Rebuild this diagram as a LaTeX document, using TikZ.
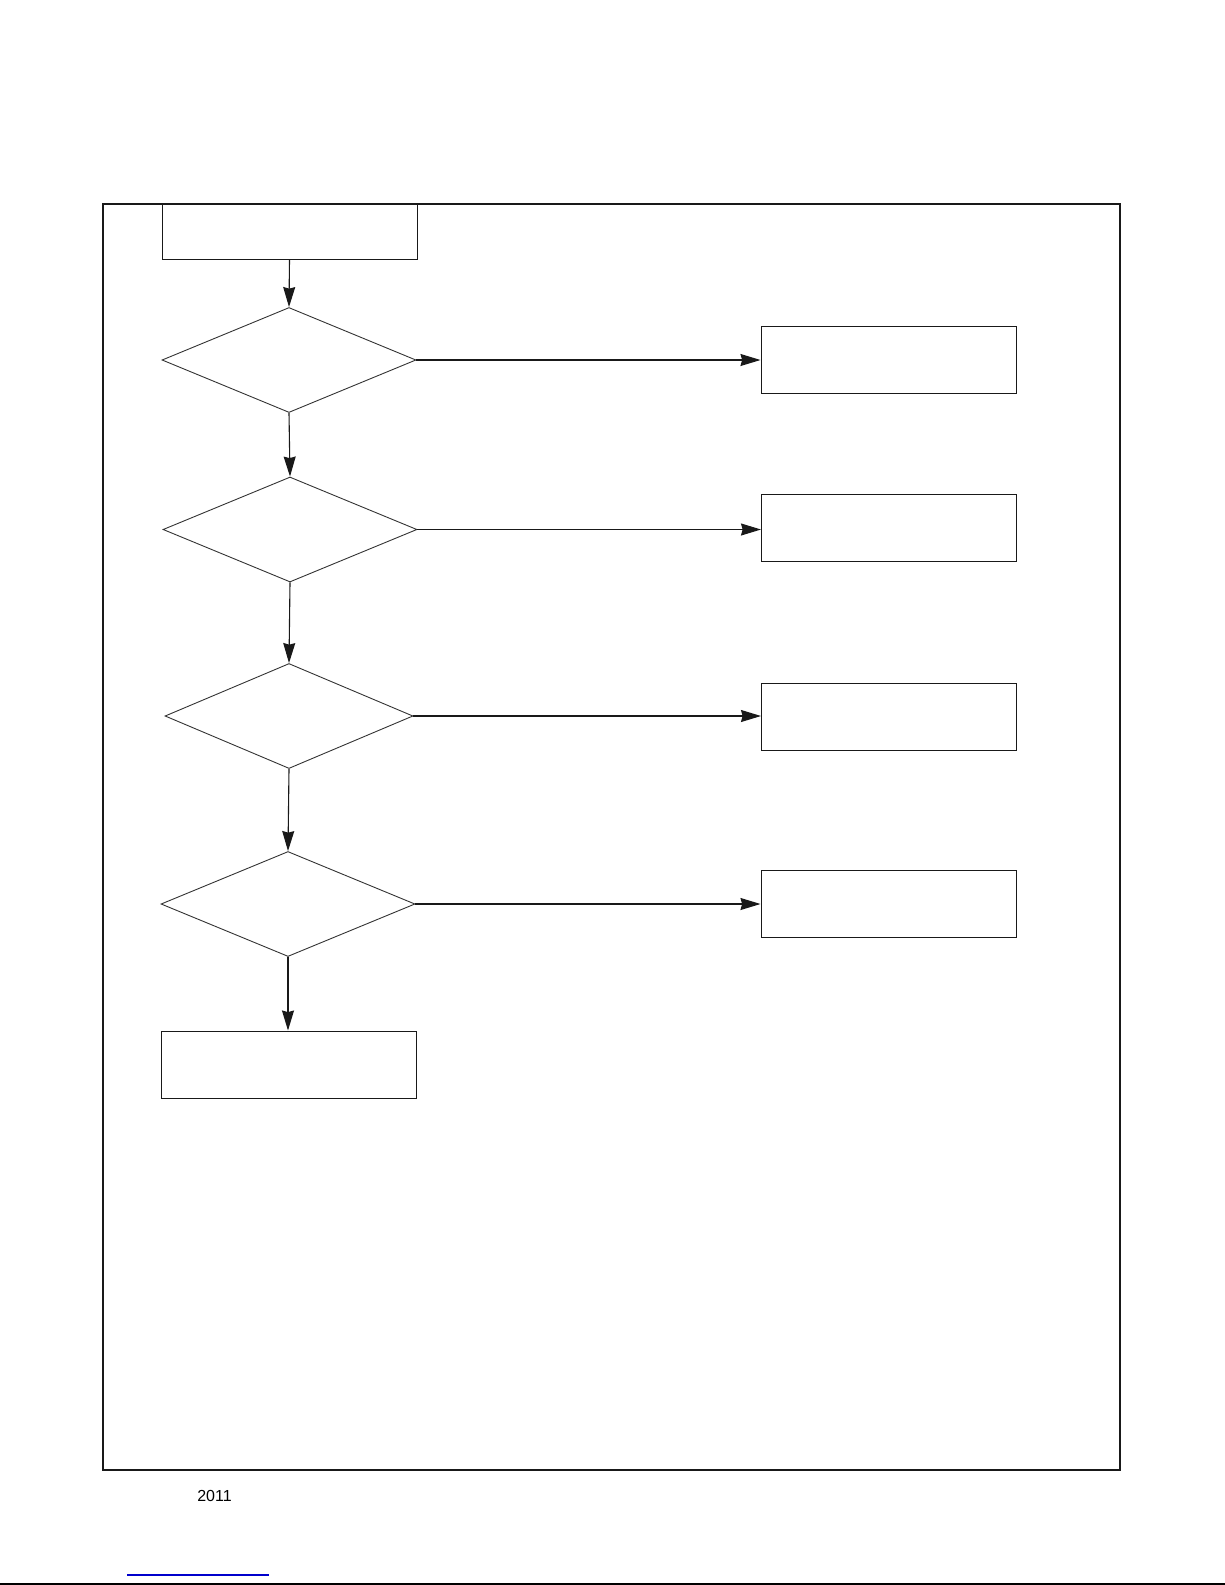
\documentclass[tikz,border=0pt]{standalone}
\usepackage{fontspec}
\setmainfont{Liberation Sans}
\usetikzlibrary{shapes.geometric,arrows.meta}
\begin{document}
\begin{tikzpicture}[x=0.5pt,y=-0.5pt,
  boxnode/.style={draw=black!90,line width=0.5pt,rectangle,inner sep=0pt,minimum width=127.5pt,minimum height=33.5pt},
  decnode/.style={draw=black!80,line width=0.45pt,diamond,inner sep=0pt,minimum width=127pt,minimum height=52.5pt},
  flow/.style={draw=black!90,line width=0.55pt,-{Stealth[length=10pt,width=6pt,inset=0.8pt]}},
  frameline/.style={draw=black!90,line width=0.55pt}]
\useasboundingbox (0,0) rectangle (1225,1585);
% frame
\draw[frameline] (103,204) rectangle (1120,1470);
% nodes
\node[boxnode,minimum height=27.5pt] (start) at (289.5,231.5) {};
\node[decnode] (d1) at (289,360) {};
\node[decnode] (d2) at (290,529.5) {};
\node[decnode,minimum width=124pt] (d3) at (289,716) {};
\node[decnode] (d4) at (288,904) {};
\node[boxnode] (fin) at (288.5,1064.5) {};
\node[boxnode] (r1) at (888.5,359.5) {};
\node[boxnode] (r2) at (889,527.5) {};
\node[boxnode] (r3) at (889,716.5) {};
\node[boxnode] (r4) at (888.5,904) {};
% connectors
\draw[flow] (start.south) -- (d1.north);
\draw[flow] (d1.south) -- (d2.north);
\draw[flow] (d2.south) -- (d3.north);
\draw[flow] (d3.south) -- (d4.north);
\draw[flow] (d4.south) -- (d4.south |- fin.north);
\draw[flow] (d1.east) -- (d1.east -| r1.west);
\draw[flow] (d2.east) -- (d2.east -| r2.west);
\draw[flow] (d3.east) -- (d3.east -| r3.west);
\draw[flow] (d4.east) -- (d4.east -| r4.west);
% footer
\node[font=\fontsize{8}{9.6}\selectfont,inner sep=0pt] (year) at (214.5,1496) {2011};
\coordinate (linkA) at (127,1575);
\coordinate (linkB) at (269,1575);
\draw[blue!80!black,line width=0.6pt] (linkA) -- (linkB);
\coordinate (ruleA) at (0,1584);
\coordinate (ruleB) at (1225,1584);
\draw[black,line width=0.8pt] (ruleA) -- (ruleB);
\end{tikzpicture}
\end{document}
